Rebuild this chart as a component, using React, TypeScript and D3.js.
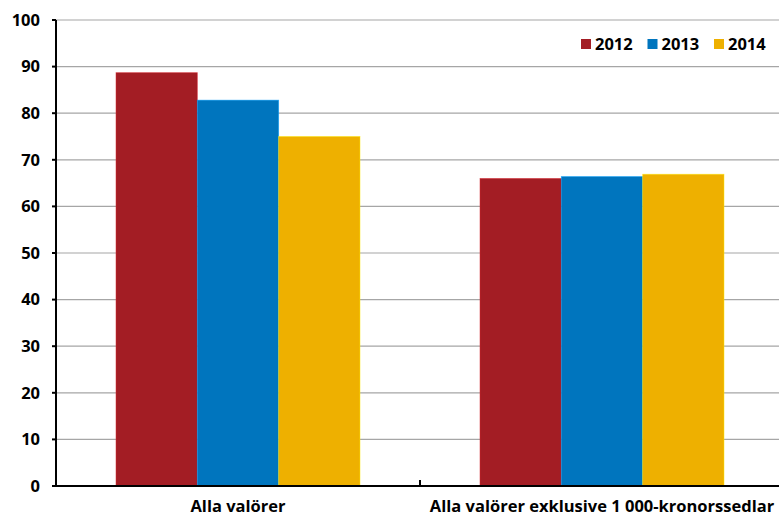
import React from "react";
import * as d3 from "d3";

const categories = ["Alla valörer", "Alla valörer exklusive 1 000-kronorssedlar"];
const seriesNames = ["2012", "2013", "2014"];
const values2012 = [88.7, 66.0];
const values2013 = [82.8, 66.4];
const values2014 = [75.0, 66.9];
const yTicks = [0, 10, 20, 30, 40, 50, 60, 70, 80, 90, 100];
const colors = ["#A31D24", "#0075BE", "#EEB000"];

export default function App() {
  const W = 779, H = 516;
  const left = 56, right = 784, top = 20, bottom = 486;
  const series = [values2012, values2013, values2014];
  const x0 = d3.scaleBand<string>().domain(categories).range([left, right]).paddingInner(0).paddingOuter(0);
  const bw = x0.bandwidth();
  const pad = 60 / 364;
  const x1 = d3.scaleBand<string>().domain(seriesNames).range([bw * pad, bw * (1 - pad)]).padding(0);
  const y = d3.scaleLinear().domain([0, 100]).range([bottom, top]);
  const font = "'Open Sans', 'Liberation Sans', sans-serif";
  const fs = 16.5;
  return (
    <svg width={W} height={H} style={{ position: "absolute", left: 0, top: 0 }} fontFamily={font}>
      {yTicks.filter(t => t > 0).map(t => (
        <line key={"g" + t} x1={left} x2={W} y1={y(t)} y2={y(t)} stroke="#a6a6a6" strokeWidth={1.2} />
      ))}
      {categories.map((c, i) =>
        series.map((s, j) => (
          <rect key={c + j} x={(x0(c) as number) + (x1(seriesNames[j]) as number)} width={x1.bandwidth()}
            y={y(s[i])} height={y(0) - y(s[i])} fill={colors[j]}
            stroke={(d3.color(colors[j]) as d3.RGBColor).brighter(0.8).formatHex()} strokeWidth={0.8} strokeOpacity={0.6} />
        ))
      )}
      <line x1={left} x2={left} y1={top} y2={bottom} stroke="#000" strokeWidth={2} />
      <line x1={left} x2={W} y1={bottom} y2={bottom} stroke="#000" strokeWidth={2} />
      {yTicks.map(t => (
        <g key={"t" + t}>
          <line x1={left - 4} x2={left} y1={y(t)} y2={y(t)} stroke="#000" strokeWidth={2} />
          <text x={40} y={y(t)} dy="0.35em" textAnchor="end" fontSize={fs} fontWeight="bold" fill="#000">{t}</text>
        </g>
      ))}
      <line x1={left + bw} x2={left + bw} y1={bottom} y2={bottom - 6} stroke="#000" strokeWidth={2} />
      {categories.map(c => (
        <text key={"c" + c} x={(x0(c) as number) + bw / 2} y={512} textAnchor="middle"
          fontSize={fs} fontWeight="bold" fill="#000">{c}</text>
      ))}
      {seriesNames.map((s, j) => {
        const lx = 581 + j * 66.5;
        return (
          <g key={"l" + s}>
            <rect x={lx} y={39} width={10} height={10} fill={colors[j]} />
            <text x={lx + 14} y={44.5} dy="0.35em" fontSize={fs} fontWeight="bold" fill="#000">{s}</text>
          </g>
        );
      })}
    </svg>
  );
}
